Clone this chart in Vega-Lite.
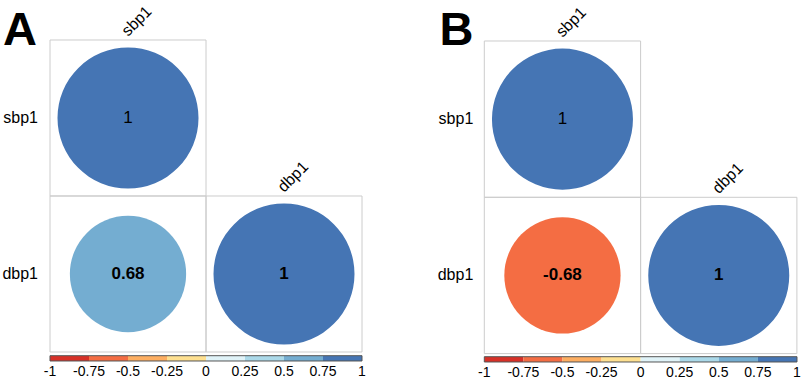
{
  "$schema": "https://vega.github.io/schema/vega-lite/v6.json",
  "padding": 0,
  "spacing": 0,
  "background": "white",
  "config": {"view": {"stroke": null}, "font": "Liberation Sans"},
  "datasets": {
    "cells": [
      {"panel": "A", "row": "sbp1", "col": "sbp1", "i": 0, "j": 0, "r": 1},
      {"panel": "A", "row": "dbp1", "col": "sbp1", "i": 0, "j": 1, "r": 0.68},
      {"panel": "A", "row": "dbp1", "col": "dbp1", "i": 1, "j": 1, "r": 1},
      {"panel": "B", "row": "sbp1", "col": "sbp1", "i": 0, "j": 0, "r": 1},
      {"panel": "B", "row": "dbp1", "col": "sbp1", "i": 0, "j": 1, "r": -0.68},
      {"panel": "B", "row": "dbp1", "col": "dbp1", "i": 1, "j": 1, "r": 1}
    ],
    "vars": [
      {"panel": "A", "name": "sbp1", "k": 0},
      {"panel": "A", "name": "dbp1", "k": 1},
      {"panel": "B", "name": "sbp1", "k": 0},
      {"panel": "B", "name": "dbp1", "k": 1}
    ],
    "tags": [
      {"panel": "A", "tag": "A"},
      {"panel": "B", "tag": "B"}
    ],
    "bins": [
      {"lo": -1, "hi": -0.75},
      {"lo": -0.75, "hi": -0.5},
      {"lo": -0.5, "hi": -0.25},
      {"lo": -0.25, "hi": 0},
      {"lo": 0, "hi": 0.25},
      {"lo": 0.25, "hi": 0.5},
      {"lo": 0.5, "hi": 0.75},
      {"lo": 0.75, "hi": 1}
    ],
    "ticks": [
      {"v": -1}, {"v": -0.75}, {"v": -0.5}, {"v": -0.25}, {"v": 0},
      {"v": 0.25}, {"v": 0.5}, {"v": 0.75}, {"v": 1}
    ]
  },
  "hconcat": [
    {
      "width": 404,
      "height": 390,
      "resolve": {"scale": {"x": "independent"}},
      "layer": [
        {
          "layer": [
            {
              "data": {"name": "cells"},
              "transform": [{"filter": "datum.panel === 'A'"}],
              "mark": {"type": "point", "shape": "square", "filled": false, "stroke": "#cccccc", "strokeWidth": 1, "size": 24336, "opacity": 1},
              "encoding": {
                "x": {"field": "i", "type": "quantitative", "scale": {"domain": [-0.8205, 1.7692], "nice": false, "zero": false}, "axis": null},
                "y": {"field": "j", "type": "quantitative", "scale": {"domain": [-0.7564, 1.7436], "reverse": true, "nice": false, "zero": false}, "axis": null}
              }
            },
            {
              "data": {"name": "cells"},
              "transform": [{"filter": "datum.panel === 'A'"}],
              "mark": {"type": "point", "shape": "circle", "filled": true, "opacity": 1, "strokeWidth": 0},
              "encoding": {
                "x": {"field": "i", "type": "quantitative", "axis": null},
                "y": {"field": "j", "type": "quantitative", "axis": null},
                "size": {"field": "r", "type": "quantitative", "scale": {"type": "linear", "domain": [-1, 0, 1], "range": [19881, 0, 19881]}, "legend": null},
                "color": {"field": "r", "type": "quantitative", "scale": {"type": "threshold", "domain": [-0.75, -0.5, -0.25, 0, 0.25, 0.5, 0.75], "range": ["#d73027", "#f46d43", "#fdae61", "#fee090", "#e0f3f8", "#abd9e9", "#74add1", "#4575b4"]}, "legend": null}
              }
            },
            {
              "data": {"name": "cells"},
              "transform": [{"filter": "datum.panel === 'A' && datum.i === 0 && datum.j === 0"}],
              "mark": {"type": "text", "font": "Liberation Sans", "fontSize": 17, "fontWeight": "normal", "color": "#000000", "align": "center", "baseline": "middle"},
              "encoding": {
                "x": {"field": "i", "type": "quantitative", "axis": null},
                "y": {"field": "j", "type": "quantitative", "axis": null},
                "text": {"field": "r", "type": "nominal"}
              }
            },
            {
              "data": {"name": "cells"},
              "transform": [{"filter": "datum.panel === 'A' && !(datum.i === 0 && datum.j === 0)"}],
              "mark": {"type": "text", "font": "Liberation Sans", "fontSize": 17, "fontWeight": "bold", "color": "#000000", "align": "center", "baseline": "middle"},
              "encoding": {
                "x": {"field": "i", "type": "quantitative", "axis": null},
                "y": {"field": "j", "type": "quantitative", "axis": null},
                "text": {"field": "r", "type": "nominal"}
              }
            },
            {
              "data": {"name": "vars"},
              "transform": [{"filter": "datum.panel === 'A'"}],
              "mark": {"type": "text", "font": "Liberation Sans", "fontSize": 16, "color": "#000000", "align": "right", "baseline": "middle", "dx": -12},
              "encoding": {
                "x": {"datum": -0.5, "type": "quantitative", "axis": null},
                "y": {"field": "k", "type": "quantitative", "axis": null},
                "text": {"field": "name", "type": "nominal"}
              }
            },
            {
              "data": {"name": "vars"},
              "transform": [{"filter": "datum.panel === 'A'"}],
              "mark": {"type": "text", "font": "Liberation Sans", "fontSize": 16, "color": "#000000", "align": "left", "baseline": "alphabetic", "angle": 315, "dx": 57.3, "dy": -57.3},
              "encoding": {
                "x": {"field": "k", "type": "quantitative", "axis": null},
                "y": {"field": "k", "type": "quantitative", "axis": null},
                "text": {"field": "name", "type": "nominal"}
              }
            },
            {
              "data": {"name": "tags"},
              "transform": [{"filter": "datum.panel === 'A'"}],
              "mark": {"type": "text", "font": "Liberation Sans", "fontSize": 47, "fontWeight": "bold", "color": "#000000", "align": "left", "baseline": "alphabetic"},
              "encoding": {
                "x": {"datum": -0.8013, "type": "quantitative", "axis": null},
                "y": {"datum": -0.4679, "type": "quantitative", "axis": null},
                "text": {"field": "tag", "type": "nominal"}
              }
            }
          ]
        },
        {
          "layer": [
            {
              "data": {"name": "bins"},
              "mark": {"type": "rect"},
              "encoding": {
                "x": {"field": "lo", "type": "quantitative", "scale": {"domain": [-1.3205, 1.2692], "nice": false, "zero": false}, "axis": null},
                "x2": {"field": "hi"},
                "y": {"datum": 1.5237, "type": "quantitative", "axis": null},
                "y2": {"datum": 1.5577},
                "color": {"field": "lo", "type": "quantitative", "scale": {"type": "threshold", "domain": [-0.75, -0.5, -0.25, 0, 0.25, 0.5, 0.75], "range": ["#d73027", "#f46d43", "#fdae61", "#fee090", "#e0f3f8", "#abd9e9", "#74add1", "#4575b4"]}, "legend": null}
              }
            },
            {
              "data": {"name": "bins"},
              "mark": {"type": "rect", "fill": null, "filled": false, "stroke": "#555555", "strokeWidth": 1},
              "encoding": {
                "x": {"aggregate": "min", "field": "lo", "type": "quantitative", "axis": null},
                "x2": {"aggregate": "max", "field": "hi"},
                "y": {"datum": 1.5237, "type": "quantitative", "axis": null},
                "y2": {"datum": 1.5577}
              }
            },
            {
              "data": {"name": "ticks"},
              "mark": {"type": "text", "font": "Liberation Sans", "fontSize": 14, "color": "#000000", "align": "center", "baseline": "middle"},
              "encoding": {
                "x": {"field": "v", "type": "quantitative", "axis": null},
                "y": {"datum": 1.6263, "type": "quantitative", "axis": null},
                "text": {"field": "v", "type": "nominal"}
              }
            }
          ]
        }
      ]
    },
    {
      "width": 404,
      "height": 390,
      "resolve": {"scale": {"x": "independent"}},
      "layer": [
        {
          "layer": [
            {
              "data": {"name": "cells"},
              "transform": [{"filter": "datum.panel === 'B'"}],
              "mark": {"type": "point", "shape": "square", "filled": false, "stroke": "#cccccc", "strokeWidth": 1, "size": 24430, "opacity": 1},
              "encoding": {
                "x": {"field": "i", "type": "quantitative", "scale": {"domain": [-1.0138, 1.5710], "nice": false, "zero": false}, "axis": null},
                "y": {"field": "j", "type": "quantitative", "scale": {"domain": [-0.7623, 1.7329], "reverse": true, "nice": false, "zero": false}, "axis": null}
              }
            },
            {
              "data": {"name": "cells"},
              "transform": [{"filter": "datum.panel === 'B'"}],
              "mark": {"type": "point", "shape": "circle", "filled": true, "opacity": 1, "strokeWidth": 0},
              "encoding": {
                "x": {"field": "i", "type": "quantitative", "axis": null},
                "y": {"field": "j", "type": "quantitative", "axis": null},
                "size": {"field": "r", "type": "quantitative", "scale": {"type": "linear", "domain": [-1, 0, 1], "range": [19600, 0, 19600]}, "legend": null},
                "color": {"field": "r", "type": "quantitative", "scale": {"type": "threshold", "domain": [-0.75, -0.5, -0.25, 0, 0.25, 0.5, 0.75], "range": ["#d73027", "#f46d43", "#fdae61", "#fee090", "#e0f3f8", "#abd9e9", "#74add1", "#4575b4"]}, "legend": null}
              }
            },
            {
              "data": {"name": "cells"},
              "transform": [{"filter": "datum.panel === 'B' && datum.i === 0 && datum.j === 0"}],
              "mark": {"type": "text", "font": "Liberation Sans", "fontSize": 17, "fontWeight": "normal", "color": "#000000", "align": "center", "baseline": "middle"},
              "encoding": {
                "x": {"field": "i", "type": "quantitative", "axis": null},
                "y": {"field": "j", "type": "quantitative", "axis": null},
                "text": {"field": "r", "type": "nominal"}
              }
            },
            {
              "data": {"name": "cells"},
              "transform": [{"filter": "datum.panel === 'B' && !(datum.i === 0 && datum.j === 0)"}],
              "mark": {"type": "text", "font": "Liberation Sans", "fontSize": 17, "fontWeight": "bold", "color": "#000000", "align": "center", "baseline": "middle"},
              "encoding": {
                "x": {"field": "i", "type": "quantitative", "axis": null},
                "y": {"field": "j", "type": "quantitative", "axis": null},
                "text": {"field": "r", "type": "nominal"}
              }
            },
            {
              "data": {"name": "vars"},
              "transform": [{"filter": "datum.panel === 'B'"}],
              "mark": {"type": "text", "font": "Liberation Sans", "fontSize": 16, "color": "#000000", "align": "right", "baseline": "middle", "dx": -11},
              "encoding": {
                "x": {"datum": -0.5, "type": "quantitative", "axis": null},
                "y": {"field": "k", "type": "quantitative", "axis": null},
                "text": {"field": "name", "type": "nominal"}
              }
            },
            {
              "data": {"name": "vars"},
              "transform": [{"filter": "datum.panel === 'B'"}],
              "mark": {"type": "text", "font": "Liberation Sans", "fontSize": 16, "color": "#000000", "align": "left", "baseline": "alphabetic", "angle": 315, "dx": 57.3, "dy": -57.3},
              "encoding": {
                "x": {"field": "k", "type": "quantitative", "axis": null},
                "y": {"field": "k", "type": "quantitative", "axis": null},
                "text": {"field": "name", "type": "nominal"}
              }
            },
            {
              "data": {"name": "tags"},
              "transform": [{"filter": "datum.panel === 'B'"}],
              "mark": {"type": "text", "font": "Liberation Sans", "fontSize": 47, "fontWeight": "bold", "color": "#000000", "align": "left", "baseline": "alphabetic"},
              "encoding": {
                "x": {"datum": -0.7860, "type": "quantitative", "axis": null},
                "y": {"datum": -0.4744, "type": "quantitative", "axis": null},
                "text": {"field": "tag", "type": "nominal"}
              }
            }
          ]
        },
        {
          "layer": [
            {
              "data": {"name": "bins"},
              "mark": {"type": "rect"},
              "encoding": {
                "x": {"field": "lo", "type": "quantitative", "scale": {"domain": [-1.5136, 1.0704], "nice": false, "zero": false}, "axis": null},
                "x2": {"field": "hi"},
                "y": {"datum": 1.5198, "type": "quantitative", "axis": null},
                "y2": {"datum": 1.5537},
                "color": {"field": "lo", "type": "quantitative", "scale": {"type": "threshold", "domain": [-0.75, -0.5, -0.25, 0, 0.25, 0.5, 0.75], "range": ["#d73027", "#f46d43", "#fdae61", "#fee090", "#e0f3f8", "#abd9e9", "#74add1", "#4575b4"]}, "legend": null}
              }
            },
            {
              "data": {"name": "bins"},
              "mark": {"type": "rect", "fill": null, "filled": false, "stroke": "#555555", "strokeWidth": 1},
              "encoding": {
                "x": {"aggregate": "min", "field": "lo", "type": "quantitative", "axis": null},
                "x2": {"aggregate": "max", "field": "hi"},
                "y": {"datum": 1.5198, "type": "quantitative", "axis": null},
                "y2": {"datum": 1.5537}
              }
            },
            {
              "data": {"name": "ticks"},
              "mark": {"type": "text", "font": "Liberation Sans", "fontSize": 14, "color": "#000000", "align": "center", "baseline": "middle"},
              "encoding": {
                "x": {"field": "v", "type": "quantitative", "axis": null},
                "y": {"datum": 1.6222, "type": "quantitative", "axis": null},
                "text": {"field": "v", "type": "nominal"}
              }
            }
          ]
        }
      ]
    }
  ]
}
